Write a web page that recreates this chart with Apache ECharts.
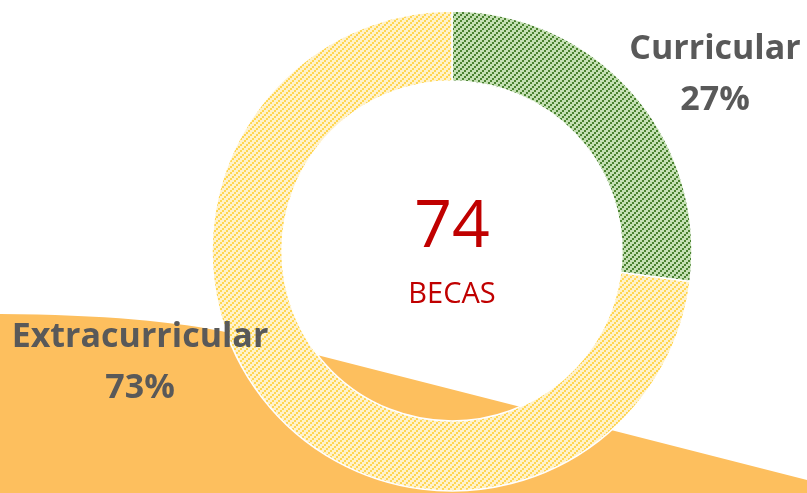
<!DOCTYPE html>
<html>
<head>
<meta charset="utf-8">
<script src="https://cdn.jsdelivr.net/npm/echarts@6/dist/echarts.min.js"></script>
<style>
  html, body { margin: 0; padding: 0; background: #fff; }
  #chart { width: 807px; height: 493px; }
</style>
</head>
<body>
<div id="chart"></div>
<script>
// data
const categories = ['Curricular', 'Extracurricular'];
const values = [20, 54];
const totalBecas = 74;
const centerLabel = 'BECAS';

// hatch pattern like excel "upward diagonal", 2px blocks
function makeHatch(bg, fg) {
  const c = document.createElement('canvas');
  c.width = 6; c.height = 6;
  const ctx = c.getContext('2d');
  ctx.fillStyle = bg;
  ctx.fillRect(0, 0, 6, 6);
  ctx.fillStyle = fg;
  for (let by = 0; by < 3; by++) {
    for (let bx = 0; bx < 3; bx++) {
      if ((bx + by) % 3 === 0) ctx.fillRect(bx * 2, by * 2, 2, 2);
    }
  }
  return { image: c, repeat: 'repeat' };
}

const sliceColors = [
  makeHatch('#C5E0B4', '#4A8230'),
  makeHatch('#FFF2CC', '#FFD653')
];

// where the outside labels sit
const labelPos = [[715, 75], [140, 363]];

// outline of the orange backdrop (decoration only)
function wavePoints() {
  const p0 = [0, 314], c1 = [130, 315], c2 = [210, 325], p1 = [270, 343];
  const pts = [];
  for (let i = 0; i <= 20; i++) {
    const t = i / 20, u = 1 - t;
    pts.push([
      u*u*u*p0[0] + 3*u*u*t*c1[0] + 3*u*t*t*c2[0] + t*t*t*p1[0],
      u*u*u*p0[1] + 3*u*u*t*c1[1] + 3*u*t*t*c2[1] + t*t*t*p1[1]
    ]);
  }
  pts.push([807, 480], [807, 493], [0, 493]);
  return pts;
}

const chart = echarts.init(document.getElementById('chart'));

const option = {
  backgroundColor: '#ffffff',
  animation: false,
  graphic: [
    {
      type: 'polygon',
      z: -10,
      shape: { points: wavePoints() },
      style: { fill: '#FDBF5E' }
    },
    {
      type: 'text',
      x: 452, y: 228,
      z: 10,
      style: {
        text: String(totalBecas),
        align: 'center', verticalAlign: 'middle',
        fill: '#C00000',
        font: '66px "Open Sans"'
      }
    },
    {
      type: 'text',
      x: 452, y: 295,
      z: 10,
      style: {
        text: centerLabel,
        align: 'center', verticalAlign: 'middle',
        fill: '#C00000',
        font: '29px "Open Sans"'
      }
    }
  ],
  series: [
    {
      type: 'pie',
      center: [452, 251],
      radius: [170, 240],
      startAngle: 90,
      clockwise: true,
      percentPrecision: 0,
      itemStyle: { borderColor: '#ffffff', borderWidth: 1.5 },
      label: {
        show: true,
        position: 'outside',
        formatter: '{b}\n{d}%',
        fontFamily: 'Open Sans',
        fontWeight: 'bold',
        fontSize: 34,
        lineHeight: 51,
        color: '#595959',
        align: 'center',
        overflow: 'none',
        width: 300
      },
      labelLine: { show: false },
      labelLayout: function (p) {
        const pos = labelPos[p.dataIndex];
        return { x: pos[0], y: pos[1], align: 'center', verticalAlign: 'middle' };
      },
      emphasis: { disabled: true },
      data: categories.map((name, i) => ({
        name: name,
        value: values[i],
        itemStyle: { color: sliceColors[i] }
      }))
    }
  ]
};

chart.setOption(option);
</script>
</body>
</html>
